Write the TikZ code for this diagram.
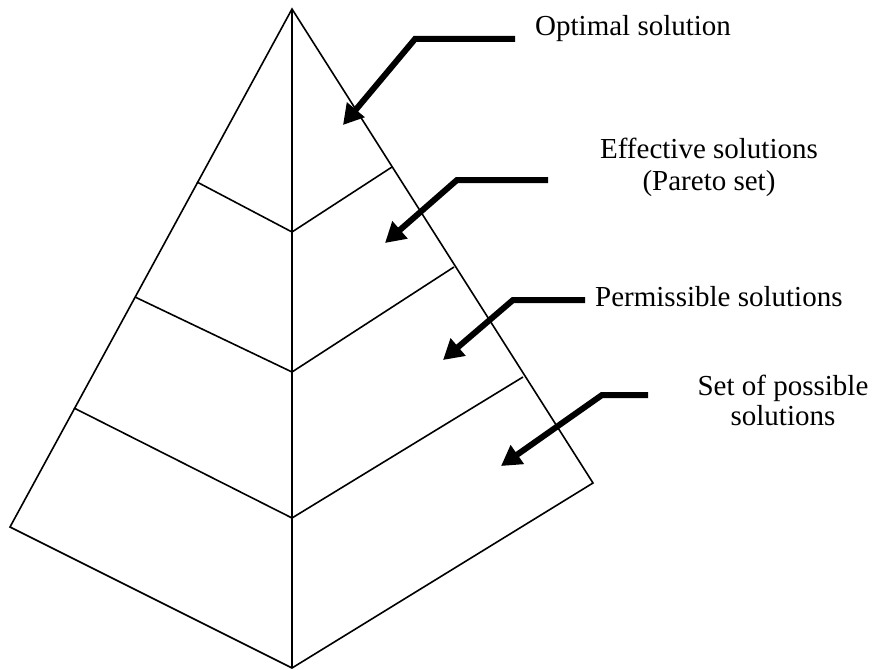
\documentclass[tikz,border=0pt]{standalone}
\usepackage{fontspec}
\setmainfont{Liberation Serif}
\usetikzlibrary{arrows.meta}
\begin{document}
\begin{tikzpicture}[x=1pt,y=-1pt,
  edge/.style={line width=1.6pt,line join=miter},
  pointer/.style={line width=6pt,line join=miter,-{Triangle[length=20pt,width=22pt]}},
  lbl/.style={font=\fontsize{29}{32}\selectfont,inner sep=0pt,align=center}]
\useasboundingbox (0,0) rectangle (888,669);
% pyramid vertices
\coordinate (A) at (292,9);
\coordinate (L) at (10,527);
\coordinate (B) at (292,668);
\coordinate (R) at (593,483);
\coordinate (l1) at (197,182); \coordinate (c1) at (292,232); \coordinate (r1) at (392,167);
\coordinate (l2) at (135,297); \coordinate (c2) at (292,372); \coordinate (r2) at (454,267);
\coordinate (l3) at (74,408);  \coordinate (c3) at (292,518); \coordinate (r3) at (523,377);
\draw[edge] (L) -- (A) -- (R) -- (B) -- cycle;
\draw[edge] (A) -- (B);
\draw[edge] (l1) -- (c1) -- (r1);
\draw[edge] (l2) -- (c2) -- (r2);
\draw[edge] (l3) -- (c3) -- (r3);
% labels
\node[lbl,anchor=base west] (t1) at (535,36) {Optimal solution};
\node[lbl,anchor=base] (t2a) at (709,158) {Effective solutions};
\node[lbl,anchor=base] (t2b) at (709,190) {(Pareto set)};
\node[lbl,anchor=base west] (t3) at (595,306) {Permissible solutions};
\node[lbl,anchor=base] (t4a) at (783,395) {Set of possible};
\node[lbl,anchor=base] (t4b) at (783,425) {solutions};
% arrow geometry
\coordinate (s1) at (515,39); \coordinate (k1) at (415,39); \coordinate (e1) at (343,125);
\coordinate (s2) at (548,180); \coordinate (k2) at (457,180); \coordinate (e2) at (385,243);
\coordinate (s3) at (585,300); \coordinate (k3) at (513,300); \coordinate (e3) at (443,360);
\coordinate (s4) at (648,395); \coordinate (k4) at (602,395); \coordinate (e4) at (501,466);
\draw[pointer] (s1) -- (k1) -- (e1);
\draw[pointer] (s2) -- (k2) -- (e2);
\draw[pointer] (s3) -- (k3) -- (e3);
\draw[pointer] (s4) -- (k4) -- (e4);
\end{tikzpicture}
\end{document}
